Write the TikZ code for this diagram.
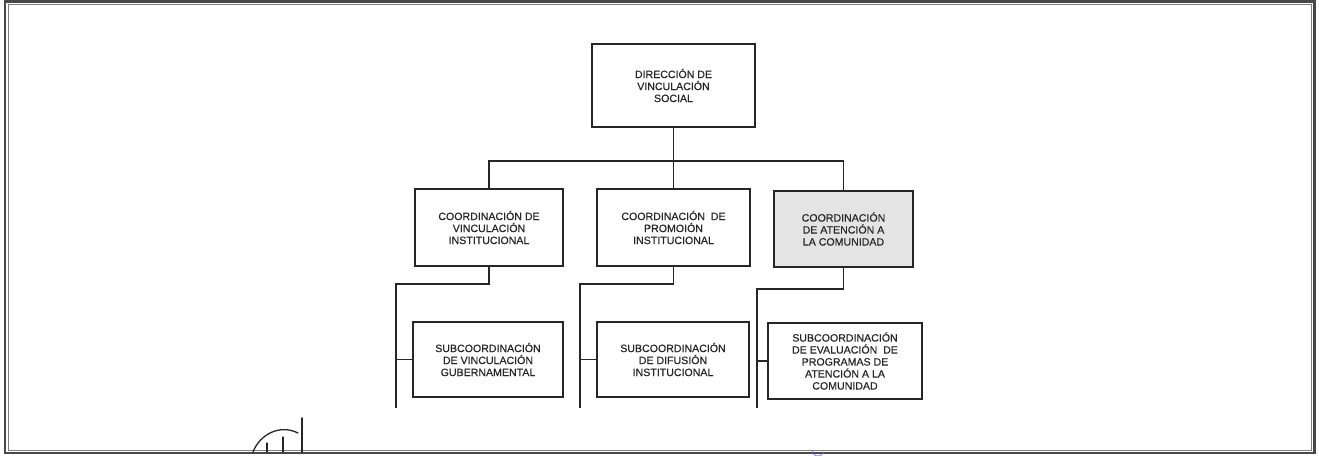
\documentclass[tikz,border=0pt]{standalone}
\usepackage{fontspec}
\setmainfont{Liberation Sans}[FakeBold=0.35]
\definecolor{ink}{HTML}{262626}
\definecolor{frame}{HTML}{484848}
\definecolor{shade}{HTML}{E4E4E4}
\tikzset{
  orgbox/.style={draw=ink, line width=1.2pt, fill=white, inner sep=0pt, align=center,
    text=ink, font=\fontsize{10.6}{12}\selectfont},
  link/.style={draw=ink, line width=1.2pt},
}
\begin{document}
\begin{tikzpicture}[x=1pt,y=-1pt]
\useasboundingbox (0,0) rectangle (1319,455);
\fill[white] (0,0) rectangle (1319,455);
% frame
\draw[frame, line width=2.8pt] (5,1.8) rectangle (1314.5,453);
\draw[frame!70, line width=0.7pt] (8.3,4.6) rectangle (1311.6,450.4);

% boxes
\node[orgbox, minimum width=163pt, minimum height=83pt] (top) at (673.5,85.5)
  {DIRECCIÓN DE\\VINCULACIÓN\\SOCIAL};
\node[orgbox, minimum width=148pt, minimum height=77pt] (c1) at (489,227.5)
  {COORDINACIÓN DE\\VINCULACIÓN\\INSTITUCIONAL};
\node[orgbox, minimum width=153pt, minimum height=77pt] (c2) at (673.5,227.5)
  {COORDINACIÓN\ \ DE\\PROMOIÓN\\INSTITUCIONAL};
\node[orgbox, fill=shade, minimum width=139pt, minimum height=76pt] (c3) at (843.5,229)
  {COORDINACIÓN\\DE ATENCIÓN A\\LA COMUNIDAD};
\node[orgbox, minimum width=150pt, minimum height=75pt] (s1) at (488,359.5)
  {SUBCOORDINACIÓN\\DE VINCULACIÓN\\GUBERNAMENTAL};
\node[orgbox, minimum width=152pt, minimum height=75pt] (s2) at (673,359.5)
  {SUBCOORDINACIÓN\\DE DIFUSIÓN\\INSTITUCIONAL};
\node[orgbox, minimum width=154pt, minimum height=76pt] (s3) at (845,361)
  {SUBCOORDINACIÓN\\DE EVALUACIÓN\ \ DE\\PROGRAMAS DE\\ATENCIÓN A LA\\COMUNIDAD};

% bus
\coordinate (b1) at (489,161);
\coordinate (b3) at (843.5,161);
\draw[link] (top.south) -- (top.south |- b1);
\draw[link] (c1.north) -- (b1) -- (b3) -- (c3.north);
\draw[link] (c2.north) -- (c2.north |- b1);

% branches
\coordinate (k1) at (396,284);
\coordinate (e1) at (396,408);
\coordinate (k2) at (580,284);
\coordinate (e2) at (580,408);
\coordinate (k3) at (757,289);
\coordinate (e3) at (757,408);
\draw[link] (c1.south) |- (k1) -- (e1);
\draw[link] (s1.west) -- (s1.west -| k1);
\draw[link] (c2.south) |- (k2) -- (e2);
\draw[link] (s2.west) -- (s2.west -| k2);
\draw[link] (c3.south) |- (k3) -- (e3);
\draw[link] (s3.west) -- (s3.west -| k3);

% handwritten mark
\draw[black!85, line width=1.3pt, line cap=round]
  (253,452) .. controls (260,434) and (280,424) .. (298,433);
\draw[black!85, line width=1.3pt, line cap=round] (267,443) -- (267,452);
\draw[black!85, line width=1.3pt, line cap=round] (283,437) -- (283,452);
\draw[black!85, line width=1.6pt, line cap=round] (302,418) -- (302,452);
\draw[blue!60, line width=0.6pt] (812,450) arc (180:20:6);
\end{tikzpicture}
\end{document}
